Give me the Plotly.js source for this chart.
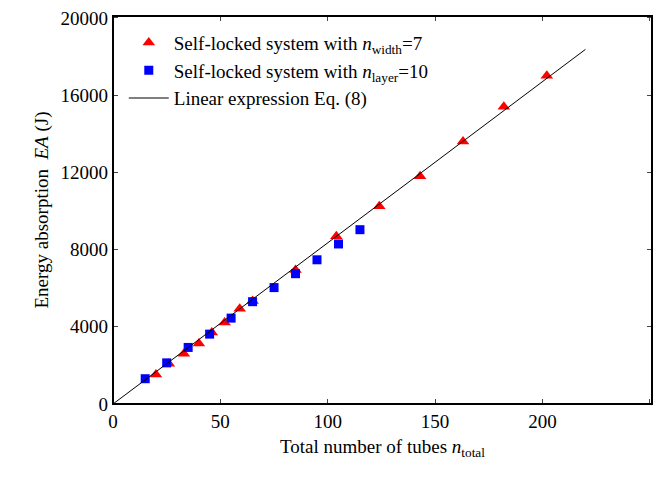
<!DOCTYPE html><html><head><script src="https://cdn.plot.ly/plotly-3.0.1.min.js"></script></head><body style="margin:0;overflow:hidden"><div id="c" style="width:662px;height:478px"></div><script>
const redX=[20,26,33,40,46,52,59,65,85,104,124,143,163,182,202];
const redY=[1530,2080,2600,3140,3700,4220,4940,5340,6940,8690,10240,11800,13600,15400,17000];
const blueX=[15,25,35,45,55,65,75,85,95,105,115];
const blueY=[1310,2130,2930,3620,4450,5300,6030,6750,7470,8290,9030];
const lineX=[0,220];
const lineY=[0,18370];
const xTicks=[0,50,100,150,200,250];
const yTicks=[0,4000,8000,12000,16000,20000];
const F={family:'Liberation Serif',size:19,color:'#000'};
Plotly.newPlot('c',[
{x:redX,y:redY,mode:'markers',name:'Self-locked system with <i>n</i><sub>width</sub>=7',marker:{symbol:'triangle-up',color:'#ff0000',size:11}},
{x:blueX,y:blueY,mode:'markers',name:'Self-locked system with <i>n</i><sub>layer</sub>=10',marker:{symbol:'square',color:'#0000ff',size:9}},
{x:lineX,y:lineY,mode:'lines',name:'Linear expression Eq. (8)',line:{color:'#000',width:1}}
],{width:662,height:478,margin:{l:113,r:10,t:16,b:74,autoexpand:false},font:F,showlegend:true,
legend:{x:0.02,y:0.98,bgcolor:'rgba(0,0,0,0)',font:F,tracegroupgap:0,itemwidth:40},
shapes:[{type:'rect',xref:'paper',yref:'paper',x0:0,x1:1,y0:0,y1:1,layer:'above',line:{color:'#000',width:2}}],
xaxis:{range:[0,251],tickvals:xTicks,ticktext:xTicks.map(String),ticks:'inside',ticklen:5,showline:true,mirror:'ticks',linecolor:'#000',linewidth:1.3,showgrid:false,zeroline:false,tickfont:F,title:{text:'Total number of tubes <i>n</i><sub>total</sub>',font:F,standoff:8}},
yaxis:{range:[0,20100],tickvals:yTicks,ticktext:yTicks.map(String),ticks:'inside',ticklen:5,showline:true,mirror:'ticks',linecolor:'#000',linewidth:1.3,showgrid:false,zeroline:false,tickfont:F,title:{text:'Energy absorption  <i>EA</i> (J)',font:F,standoff:6}}
},{displayModeBar:false});
</script></body></html>
